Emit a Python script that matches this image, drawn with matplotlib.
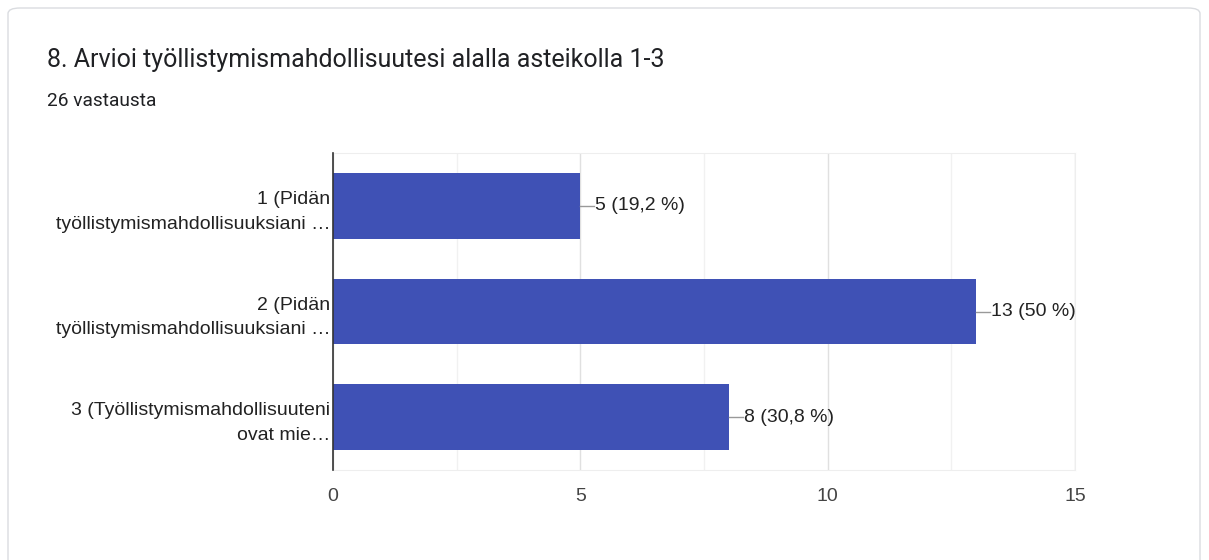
import matplotlib.pyplot as plt
from matplotlib.patches import FancyBboxPatch

categories = [
    "1 (Pidän\ntyöllistymismahdollisuuksiani …",
    "2 (Pidän\ntyöllistymismahdollisuuksiani …",
    "3 (Työllistymismahdollisuuteni\novat mie…",
]
counts = [5, 13, 8]
labels = ["5 (19,2 %)", "13 (50 %)", "8 (30,8 %)"]
x_ticks = [0, 5, 10, 15]
minor_ticks = [2.5, 7.5, 12.5]

plt.rcParams['font.family'] = ['Liberation Sans', 'DejaVu Sans']

fig = plt.figure(figsize=(12.09, 5.6), dpi=100)
fig.patch.set_facecolor('white')

# card outline
card = FancyBboxPatch((8 / 1209, -0.05), 1192 / 1209, 1.05 - 8 / 560,
                      boxstyle="round,pad=0,rounding_size=0.01",
                      transform=fig.transFigure, facecolor='white',
                      edgecolor='#dadce0', linewidth=1, zorder=-10)
fig.patches.append(card)

fig.text(47 / 1209, 1 - 60 / 560, "8. Arvioi työllistymismahdollisuutesi alalla asteikolla 1-3",
         fontsize=18, color='#202124', va='center', family=['Roboto', 'DejaVu Sans'])
fig.text(47 / 1209, 1 - 101 / 560, "26 vastausta", fontsize=13.8, color='#202124',
         va='center', family=['Roboto', 'DejaVu Sans'])

ax = fig.add_axes([333 / 1209, 1 - 470 / 560, 742 / 1209, 317 / 560], zorder=5)
ax.patch.set_alpha(0)
y = list(range(len(categories)))
ax.barh(y, counts, height=0.62, color='#3f51b5', zorder=3)

for yi, c, lab in zip(y, counts, labels):
    ax.plot([c, c + 0.28], [yi, yi], color='#999999', lw=1, zorder=3, clip_on=False)
    ax.text(c + 0.30, yi, lab, va='center', ha='left', fontsize=14, color='#222222')

ax.set_xlim(0, 15)
ax.set_ylim(2.5, -0.5)
ax.set_xticks(x_ticks)
ax.set_xticklabels([str(t) for t in x_ticks], fontsize=14, color='#444444')
ax.set_xticks(minor_ticks, minor=True)
ax.set_yticks(y)
ax.set_yticklabels(categories, fontsize=14, color='#222222', linespacing=1.6)

ax.grid(axis='x', which='major', color='#e0e0e0', lw=1, zorder=0)
ax.grid(axis='x', which='minor', color='#f1f1f1', lw=1, zorder=0)
ax.tick_params(axis='both', which='both', length=0)
ax.tick_params(axis='x', pad=13)
ax.tick_params(axis='y', pad=2)

for s in ['top', 'right', 'bottom']:
    ax.spines[s].set_color('#eeeeee')
ax.spines['left'].set_color('#333333')
ax.spines['left'].set_linewidth(1.2)
ax.spines['left'].set_zorder(4)

fig.savefig('out.png', dpi=100)
